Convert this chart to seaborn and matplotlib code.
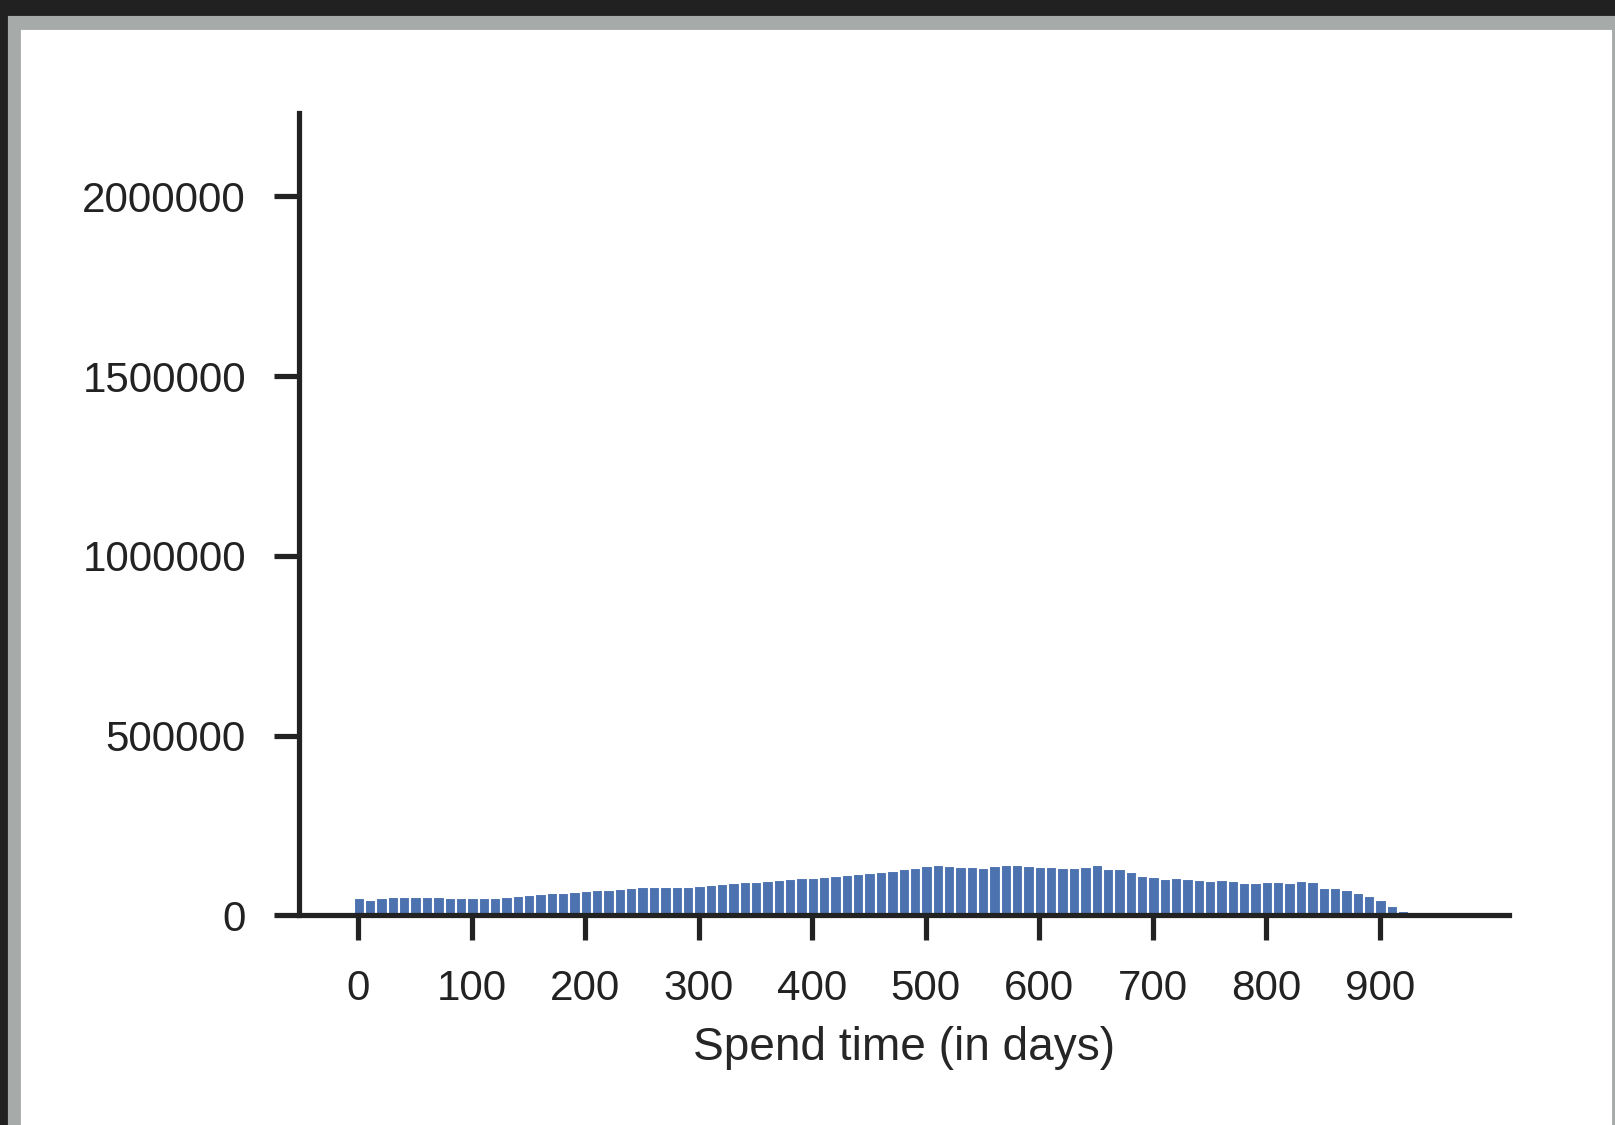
import numpy as np
import pandas as pd
import matplotlib
matplotlib.use("Agg")
import matplotlib.pyplot as plt
import matplotlib.patches as mpatches
import seaborn as sns

# Histogram bins: 10-day bins, first left edge at -4 days
bin_start = -4
bin_width = 10
counts = [48700, 43100, 48700, 51500, 51500, 51500, 51500, 51500, 48700, 48700,
          48700, 48700, 48700, 51500, 54300, 57000, 59800, 62600, 62600, 65400,
          68200, 71000, 71000, 73700, 76500, 79300, 79300, 79300, 79300, 79300,
          82100, 85000, 87700, 90500, 93200, 93200, 96000, 98800, 101500, 104300,
          104300, 107100, 109900, 112700, 115500, 118200, 121000, 123800, 129400, 132100,
          137700, 140500, 137700, 134900, 134900, 132100, 137700, 140500, 140500, 137700,
          134900, 134900, 132100, 132100, 134900, 140500, 129400, 129400, 121000, 109900,
          107100, 101500, 104300, 101500, 98800, 96000, 98800, 96000, 90400, 90400,
          93200, 93200, 90400, 96000, 93200, 76500, 76500, 70900, 62600, 54300,
          43100, 26400, 12500]
x_ticks = list(range(0, 1000, 100))
y_ticks = [0, 500000, 1000000, 1500000, 2000000]

edges = bin_start + bin_width * np.arange(len(counts) + 1)
df = pd.DataFrame({"days": edges[:-1] + bin_width / 2, "count": counts})

sns.set_theme(style="ticks", context="poster", font_scale=0.92)
plt.rcParams["font.family"] = ["Liberation Sans", "DejaVu Sans"]

fig = plt.figure(figsize=(1615 / 150, 1125 / 150), dpi=150)
fig.patch.set_facecolor("#212121")
W, H = 1615, 1125
# notebook-style frame around the output
fig.add_artist(mpatches.Rectangle((10 / W, 0), 1 - 10 / W, (H - 18) / H,
                                  transform=fig.transFigure, color="#a6aaa8", zorder=0))
fig.add_artist(mpatches.Rectangle((23.3 / W, 0), (1610 - 23.3) / W, (H - 32) / H,
                                  transform=fig.transFigure, color="white", zorder=0))

ax = fig.add_axes([299 / W, 209.6 / H, (1509 - 299) / W, (915.4 - 112.7) / H])
ax.patch.set_alpha(0)
sns.histplot(data=df, x="days", weights="count", binwidth=bin_width,
             binrange=(edges[0], edges[-1]), ax=ax,
             color="#4c72b0", alpha=1, edgecolor="white", linewidth=1)
sns.despine(ax=ax)

ax.set_xlim(-52.2, 1013.8)
ax.set_ylim(0, 2233000)
ax.set_xticks(x_ticks)
ax.set_yticks(y_ticks)
ax.ticklabel_format(style="plain", axis="y")
ax.set_xlabel("Spend time (in days)", labelpad=8.5)
ax.set_ylabel("")
ax.tick_params(axis="both", length=12, width=2.5, pad=13.5, colors="#222222")
for s in ax.spines.values():
    s.set_linewidth(2.5)
    s.set_color("#222222")

fig.savefig("out.png", dpi=150, facecolor=fig.get_facecolor())
